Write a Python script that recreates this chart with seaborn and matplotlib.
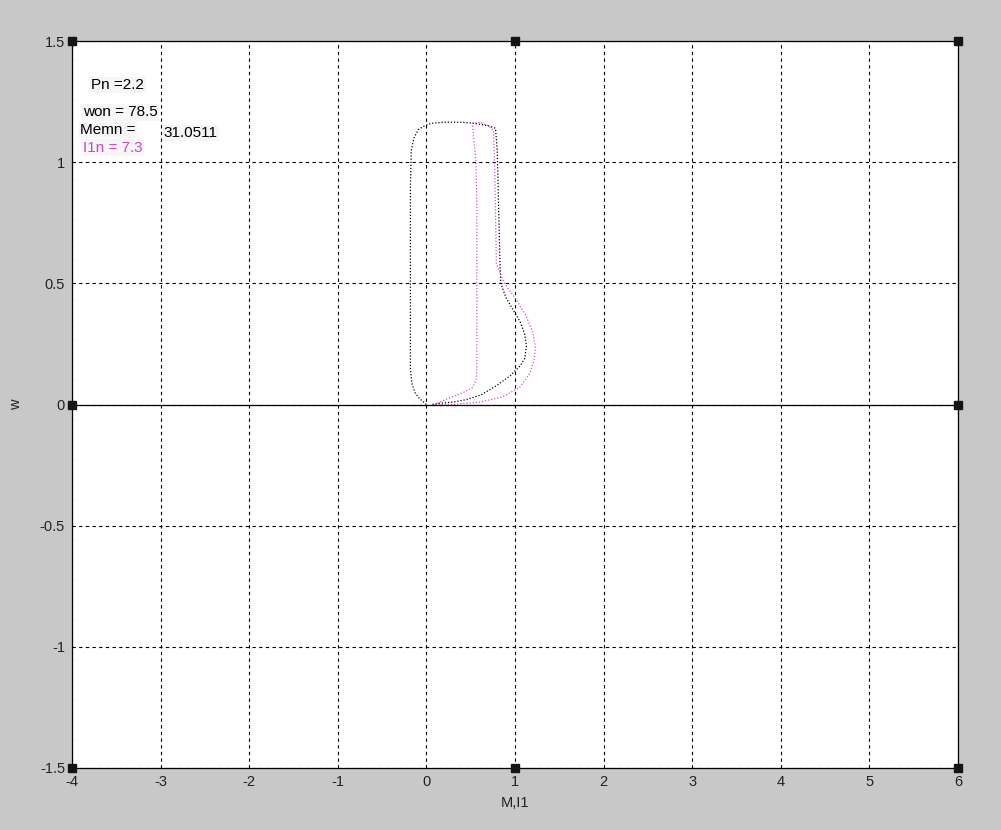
import matplotlib
matplotlib.use("Agg")
import matplotlib.pyplot as plt
import seaborn as sns
import pandas as pd

# torque trajectory (black): M vs w
m_torque = [0.0, -0.03, -0.08, -0.13, -0.165, -0.18, -0.18, -0.18, -0.17, -0.14, -0.09, -0.02,
            0.05, 0.2, 0.4, 0.55, 0.7, 0.78, 0.80, 0.81, 0.82, 0.83, 0.84, 0.90, 0.98, 1.06,
            1.11, 1.13, 1.11, 1.06, 0.95, 0.80, 0.62, 0.45, 0.30, 0.15, 0.05]
w_torque = [0.0, 0.01, 0.025, 0.05, 0.09, 0.15, 0.5, 0.9, 1.05, 1.1, 1.135, 1.15,
            1.16, 1.165, 1.165, 1.16, 1.15, 1.14, 1.05, 0.9, 0.75, 0.6, 0.5, 0.44, 0.39, 0.34,
            0.29, 0.24, 0.19, 0.16, 0.12, 0.08, 0.04, 0.02, 0.01, 0.005, 0.0]

# stator current trajectory (magenta): I1 vs w
i_current = [0.10, 0.3, 0.6, 0.85, 1.05, 1.17, 1.22, 1.23, 1.20, 1.12, 1.00, 0.88, 0.79,
             0.78, 0.77, 0.76, 0.76, 0.70, 0.60, 0.52, 0.53, 0.56, 0.57, 0.57, 0.57,
             0.56, 0.52, 0.42, 0.28, 0.15, 0.10]
w_current = [0.0, 0.0, 0.01, 0.03, 0.07, 0.13, 0.19, 0.24, 0.30, 0.37, 0.44, 0.50, 0.58,
             0.8, 1.0, 1.1, 1.13, 1.15, 1.165, 1.16, 1.12, 1.0, 0.8, 0.5, 0.15,
             0.1, 0.07, 0.05, 0.03, 0.01, 0.0]

labels = ["Pn =2.2", "won = 78.5", "Memn =", "31.0511", "I1n = 7.3"]
xticks = [-4, -3, -2, -1, 0, 1, 2, 3, 4, 5, 6]
yticks = [-1.5, -1, -0.5, 0, 0.5, 1, 1.5]
ytick_labels = ["-1.5", "-1", "-0.5", "0", "0.5", "1", "1.5"]

sns.set_style("white")
plt.rcParams["font.family"] = ["Liberation Sans", "DejaVu Sans"]
plt.rcParams["axes.unicode_minus"] = False

bg = "#c8c8c8"
fig = plt.figure(figsize=(10.01, 8.30), dpi=100, facecolor=bg)
ax = fig.add_axes([0.0719, 0.0747, 0.8851, 0.8759])

df_m = pd.DataFrame({"x": m_torque, "w": w_torque})
df_i = pd.DataFrame({"x": i_current, "w": w_current})
sns.lineplot(data=df_m, x="x", y="w", sort=False, estimator=None, ax=ax,
             color="black", linestyle=(0, (1, 1.5)), linewidth=0.9)
sns.lineplot(data=df_i, x="x", y="w", sort=False, estimator=None, ax=ax,
             color="#cc55cc", linestyle=(0, (1, 1.5)), linewidth=0.9)

ax.set_xlim(-4, 6)
ax.set_ylim(-1.5, 1.5)
ax.set_xticks(xticks)
ax.set_yticks(yticks)
ax.set_yticklabels(ytick_labels)
ax.grid(True, color="black", linestyle=(0, (3, 3)), linewidth=0.8)
ax.axhline(0, color="black", linewidth=0.9)
ax.tick_params(direction="in", length=4, labelsize=10.5, colors="#222222", pad=5)
for s in ax.spines.values():
    s.set_color("black")
    s.set_linewidth(0.9)
ax.set_xlabel("M,I1", fontsize=10.5, color="#222222")
ax.set_ylabel("w", fontsize=10.5, color="#222222")
ax.xaxis.set_label_coords(0.5, -0.038)
ax.yaxis.set_label_coords(-0.0553, 0.5)

# selection handles
for hx, hy in [(-4, 1.5), (1, 1.5), (6, 1.5), (-4, 0), (6, 0), (-4, -1.5), (1, -1.5), (6, -1.5)]:
    ax.plot(hx, hy, marker="s", markersize=6, color="#151515", clip_on=False, zorder=5)

# annotation texts
txt_pos = [(0.022, 0.9395), (0.012, 0.902), (0.009, 0.8776), (0.1038, 0.8735), (0.012, 0.853)]
txt_col = ["black", "black", "black", "black", "#cc44cc"]
for t, (tx, ty), c in zip(labels, txt_pos, txt_col):
    ax.text(tx, ty, t, transform=ax.transAxes, fontsize=11, color=c, va="center",
            bbox=dict(facecolor="#f6f6f6", edgecolor="none", pad=1))

fig.savefig("out.png", dpi=100, facecolor=bg)
